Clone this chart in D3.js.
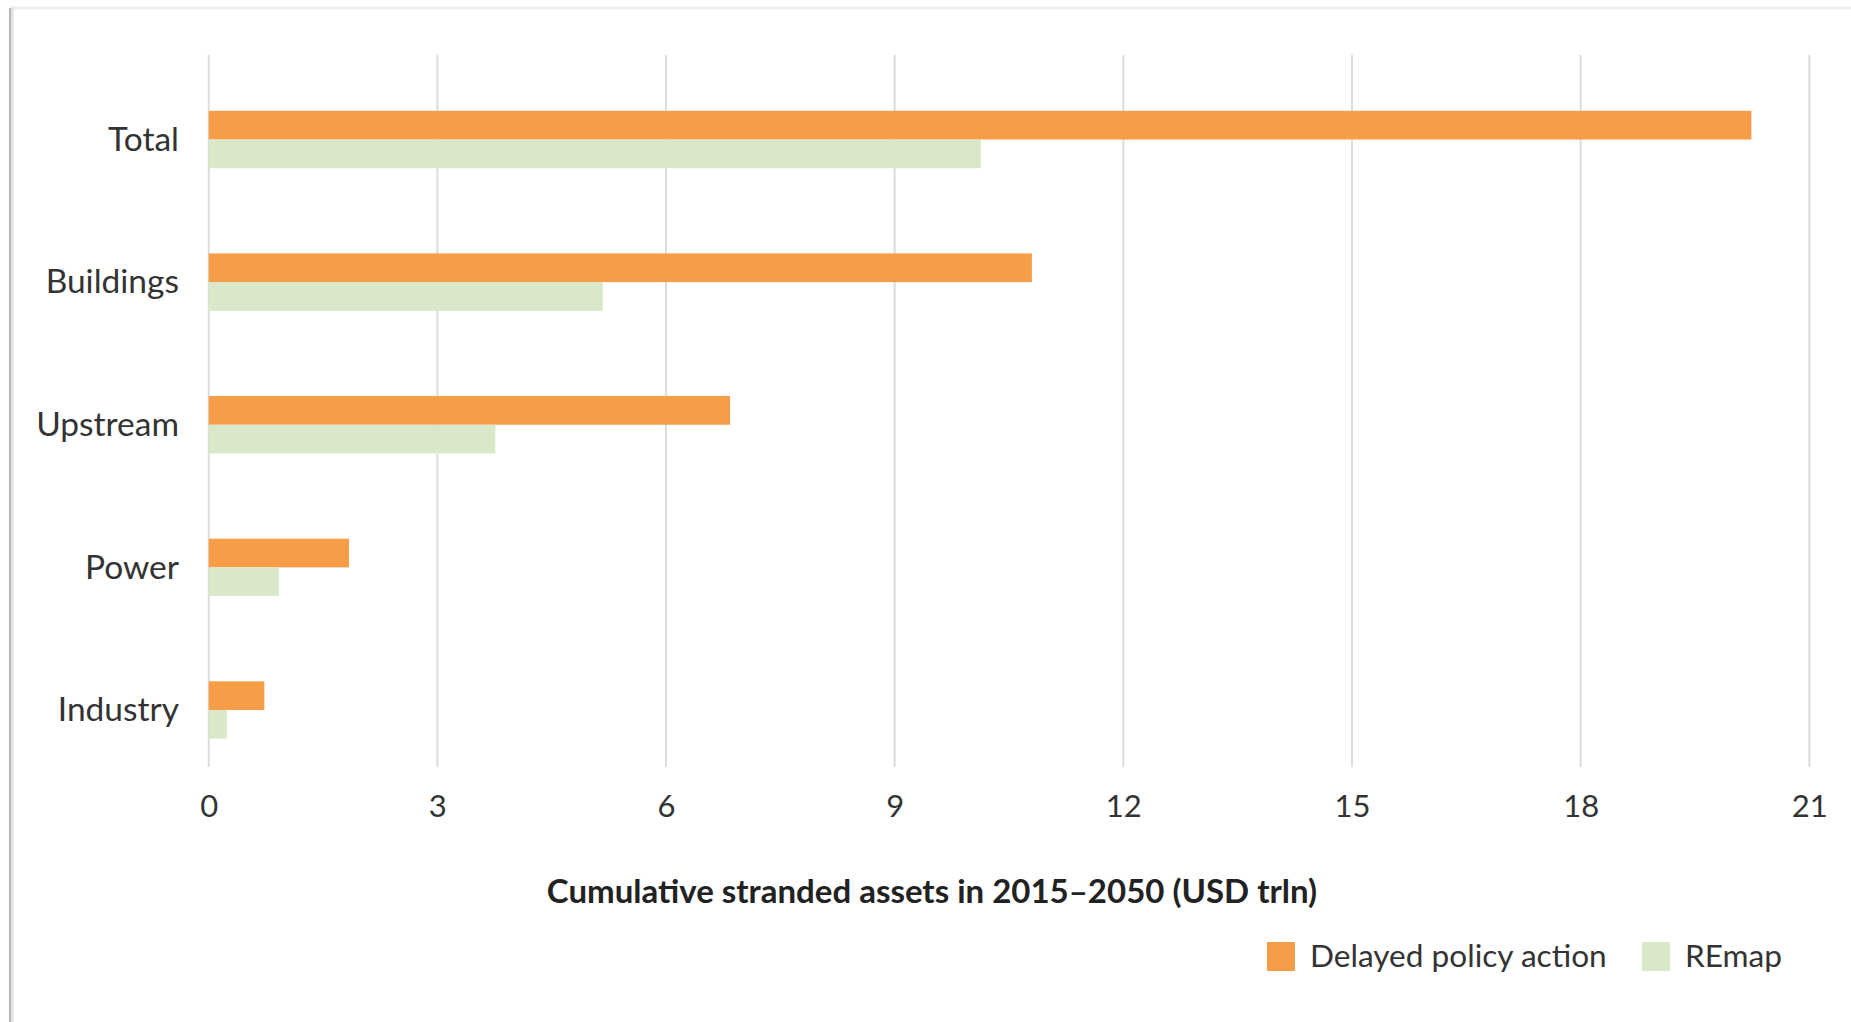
<!DOCTYPE html>
<html><head><meta charset="utf-8">
<script src="https://cdn.jsdelivr.net/npm/d3@7"></script>
<style>
html,body{margin:0;padding:0;background:#fff;}
svg{display:block;}
</style></head>
<body>
<script>
const categories = ["Total","Buildings","Upstream","Power","Industry"];
const delayedValues = [20.24, 10.80, 6.84, 1.84, 0.73];
const remapValues = [10.13, 5.17, 3.76, 0.92, 0.24];
const xTicks = [0,3,6,9,12,15,18,21];
const seriesNames = ["Delayed policy action","REmap"];
const axisTitle = "Cumulative stranded assets in 2015–2050 (USD trln)";

const W = 1851, H = 1022;
const colors = ["#F79D47", "#D8E8C9"];
const textColor = "#333333";
const font = "Lato, 'Open Sans', sans-serif";

const svg = d3.select("body").append("svg").attr("width", W).attr("height", H);

// frame (shadowed edge lines)
svg.append("line").attr("x1", 10).attr("x2", W).attr("y1", 8).attr("y2", 8)
  .attr("stroke", "#ececec").attr("stroke-width", 3);
svg.append("line").attr("x1", 12).attr("x2", 12).attr("y1", 8).attr("y2", H)
  .attr("stroke", "#e2e2e2").attr("stroke-width", 3);
svg.append("line").attr("x1", 10).attr("x2", 10).attr("y1", 8).attr("y2", H)
  .attr("stroke", "#b5b5b5").attr("stroke-width", 2);

const x = d3.scaleLinear().domain([0, 21]).range([208.7, 1809.3]);
const y = d3.scalePoint().domain(categories).range([139.5, 710]);
const barH = 28.7;
const gridTop = 55, gridBottom = 767;

// gridlines
svg.append("g").selectAll("line").data(xTicks).join("line")
  .attr("x1", d => x(d)).attr("x2", d => x(d))
  .attr("y1", gridTop).attr("y2", gridBottom)
  .attr("stroke", "#dcdcdc").attr("stroke-width", 2);

// x axis tick labels via d3 axis
const xAxis = d3.axisBottom(x).tickValues(xTicks).tickSize(0).tickPadding(0).tickFormat(d3.format("d"));
const gx = svg.append("g").attr("transform", `translate(0, ${gridBottom + 28})`).call(xAxis);
gx.select(".domain").remove();
gx.selectAll("text").attr("font-family", font).attr("font-size", 31)
  .attr("fill", textColor).attr("dy", "0.71em");

// y axis labels
const yAxis = d3.axisLeft(y).tickSize(0).tickPadding(0);
const gy = svg.append("g").attr("transform", `translate(179, 0)`).call(yAxis);
gy.select(".domain").remove();
gy.selectAll("text").attr("font-family", font).attr("font-size", 33.5)
  .attr("fill", textColor).attr("dy", "0.32em");

// bars
const data = categories.map((c, i) => ({c, v: [delayedValues[i], remapValues[i]]}));
const g = svg.append("g");
[0, 1].forEach(s => {
  g.selectAll(null).data(data).join("rect")
    .attr("x", x(0))
    .attr("y", d => y(d.c) - barH + s * barH)
    .attr("width", d => x(d.v[s]) - x(0))
    .attr("height", barH)
    .attr("fill", colors[s]);
});

// axis title
svg.append("text").attr("x", 932).attr("y", 891).attr("dy", "0.35em")
  .attr("text-anchor", "middle").attr("font-family", "Lato, sans-serif")
  .attr("font-weight", "bold").attr("font-size", 33).attr("fill", "#222")
  .text(axisTitle);

// legend
const legendItems = [
  {name: seriesNames[0], color: colors[0], x: 1267},
  {name: seriesNames[1], color: colors[1], x: 1642}
];
const lg = svg.append("g");
legendItems.forEach(it => {
  lg.append("rect").attr("x", it.x).attr("y", 942).attr("width", 28).attr("height", 29).attr("fill", it.color);
  lg.append("text").attr("x", it.x + 43).attr("y", 956).attr("dy", "0.35em")
    .attr("font-family", font).attr("font-size", 31.6).attr("fill", textColor).text(it.name);
});
</script>
</body></html>
